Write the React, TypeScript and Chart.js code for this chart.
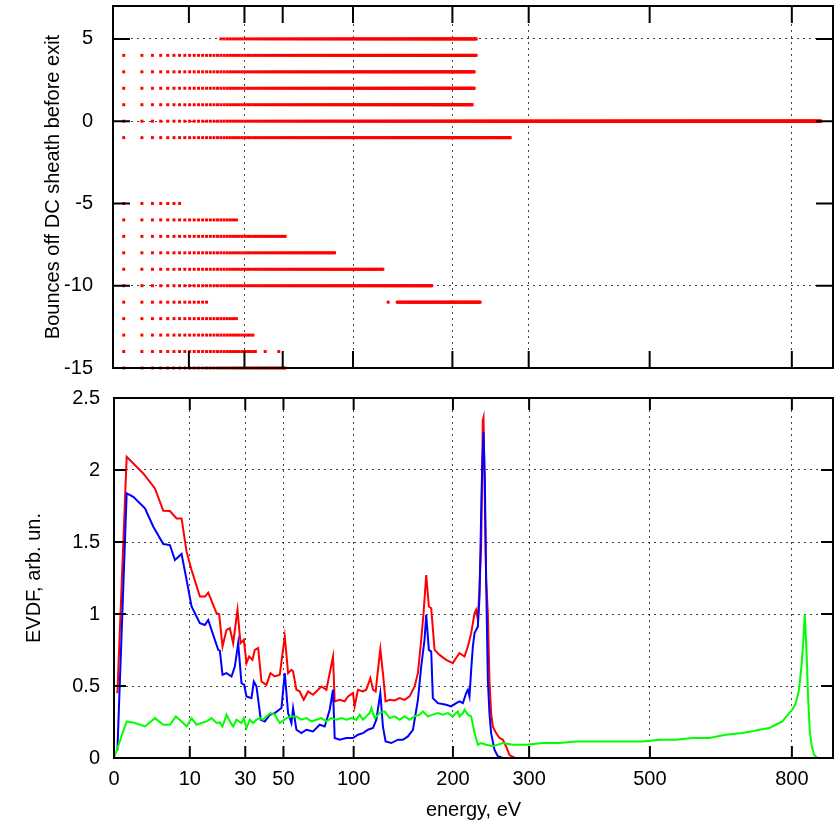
import React, { useEffect, useRef } from 'react';
import { Chart, registerables, LinearScale } from 'chart.js';

Chart.register(...registerables);

// Linear scale in sqrt(energy): data stay in eV, the axis spaces them by sqrt(E)
class SqrtScale extends LinearScale {
  static id = 'sqrt';
  getPixelForValue(value: number) {
    const lo = Math.sqrt(Math.max(this.min, 0));
    const hi = Math.sqrt(this.max);
    const v = Math.sqrt(Math.max(value, 0));
    return this.getPixelForDecimal((v - lo) / (hi - lo));
  }
  getValueForPixel(pixel: number) {
    const lo = Math.sqrt(Math.max(this.min, 0));
    const hi = Math.sqrt(this.max);
    const s = lo + this.getDecimalForPixel(pixel) * (hi - lo);
    return s * s;
  }
}
Chart.register(SqrtScale as any);

// ---------- tick labels ----------
const energyTicks = [0, 10, 30, 50, 100, 200, 300, 500, 800];
const bounceTicks = [-15, -10, -5, 0, 5];
const evdfTicks = [0, 0.5, 1, 1.5, 2, 2.5];
const topGridX = [30, 100, 200, 300, 800];
const topGridY = [-10, 0, 5];

// ---------- top panel: energy bins with exits after N bounces ----------
const binWidth = 1.25;
const firstBin = 0.2;
const rowBounces = [5, 4, 3, 2, 1, 0, -1, -5, -6, -7, -8, -9, -10, -11, -11, -11, -12, -13, -14, -14, -14, -15];
const rowFromE = [20, 0.2, 0.2, 0.2, 0.2, 0.2, 0.2, 0.2, 0.2, 0.2, 0.2, 0.2, 0.2, 0.2, 131, 140, 0.2, 0.2, 0.2, 40, 47.5, 0.2];
const rowToE = [229, 229.5, 227, 227, 225, 871, 275, 8, 26.7, 52.6, 85.6, 126.6, 176.7, 15.3, 132, 234, 26.7, 35, 36, 40.5, 48, 52.6];

// ---------- bottom panel: EVDF curves ----------
const redE = [0.02, 0.28, 1.49, 2.92, 4.23, 5.44, 6.82, 7.95, 9.17, 10.47, 12.84, 14.38, 15.45, 17.13, 18.3, 19.26, 20.5, 22.04, 23.36, 24.72, 26.55, 27.86, 29.34, 30.56, 31.8, 33.38, 34.52, 36.17, 37.86, 40.47, 42.61, 45.0, 47.84, 50.77, 52.77, 54.8, 55.83, 57.93, 60.06, 62.67, 65.57, 68.98, 72.49, 74.87, 78.52, 81.0, 83.52, 84.79, 88.67, 92.64, 95.33, 99.44, 100.8, 103.6, 107.9, 110.8, 114.4, 116.8, 119.2, 121.3, 123.5, 125.9, 128.4, 132.3, 137.1, 142.0, 147.0, 152.1, 157.3, 160.8, 164.3, 166.8, 169.7, 172.6, 175.2, 178.9, 184.5, 192.1, 199.9, 203.5, 207.8, 213.9, 218.0, 222.1, 226.3, 228.3, 230.5, 232.6, 234.7, 236.8, 237.7, 239.0, 241.1, 243.3, 245.4, 247.6, 249.8, 254.2, 258.7, 263.2, 267.7, 272.3, 280];
const redV = [0.45, 2.092, 1.976, 1.872, 1.717, 1.715, 1.664, 1.664, 1.433, 1.306, 1.121, 1.121, 1.148, 1.063, 1.005, 0.999, 0.774, 0.89, 0.901, 0.797, 1.029, 0.797, 0.821, 0.659, 0.705, 0.682, 0.751, 0.763, 0.531, 0.508, 0.589, 0.566, 0.578, 0.844, 0.589, 0.612, 0.601, 0.474, 0.462, 0.404, 0.462, 0.439, 0.474, 0.497, 0.474, 0.589, 0.705, 0.393, 0.404, 0.393, 0.428, 0.451, 0.358, 0.474, 0.462, 0.474, 0.555, 0.474, 0.462, 0.612, 0.756, 0.589, 0.393, 0.404, 0.4, 0.416, 0.404, 0.428, 0.497, 0.589, 0.821, 1.005, 1.271, 1.052, 1.04, 0.751, 0.716, 0.682, 0.659, 0.693, 0.728, 0.705, 0.774, 0.867, 1.005, 1.029, 0.959, 1.19, 1.468, 2.346, 2.365, 1.93, 1.237, 1.005, 0.543, 0.312, 0.219, 0.173, 0.139, 0.127, 0.08, 0.02, 0];

const blueE = [0.02, 0.28, 0.65, 1.67, 2.69, 4.23, 5.44, 6.46, 7.95, 9.17, 10.47, 12.84, 14.38, 15.45, 17.13, 18.9, 19.51, 20.5, 22.04, 24.04, 25.42, 26.84, 28.3, 29.49, 30.56, 32.9, 34.03, 35.34, 37.52, 39.59, 42.25, 45.0, 48.81, 50.77, 52.77, 54.8, 55.83, 57.93, 61.14, 64.44, 68.98, 73.67, 77.3, 81.0, 83.52, 84.79, 88.67, 93.98, 99.44, 103.6, 107.9, 112.3, 116.8, 119.8, 123.5, 125.9, 128.4, 133.9, 140.4, 145.3, 150.4, 155.6, 160.8, 164.3, 167.9, 169.7, 172.6, 175.2, 177.0, 182.6, 192.1, 197.9, 203.9, 207.8, 211.9, 215.9, 218.0, 220.0, 222.1, 224.2, 226.3, 230.5, 232.6, 234.7, 236.0, 237.7, 239.4, 241.1, 243.3, 245.4, 247.6, 252.0, 256.4, 263.2, 272.3];
const blueV = [0.05, 1.838, 1.814, 1.734, 1.606, 1.486, 1.479, 1.375, 1.417, 1.237, 1.052, 0.936, 0.924, 0.959, 0.855, 0.751, 0.746, 0.578, 0.589, 0.566, 0.635, 0.797, 0.52, 0.508, 0.428, 0.416, 0.531, 0.497, 0.266, 0.254, 0.3, 0.312, 0.347, 0.589, 0.312, 0.243, 0.347, 0.196, 0.173, 0.196, 0.185, 0.231, 0.219, 0.335, 0.474, 0.139, 0.127, 0.139, 0.139, 0.162, 0.173, 0.196, 0.208, 0.266, 0.451, 0.219, 0.115, 0.104, 0.127, 0.127, 0.15, 0.196, 0.404, 0.635, 0.821, 0.994, 0.751, 0.739, 0.416, 0.381, 0.37, 0.358, 0.381, 0.393, 0.381, 0.451, 0.474, 0.428, 0.612, 0.774, 0.867, 0.913, 1.121, 1.699, 2.023, 2.265, 1.93, 1.237, 0.543, 0.312, 0.173, 0.058, 0.012, 0, 0];

const greenE = [0, 0.28, 0.77, 1.67, 2.92, 4.23, 5.44, 6.67, 7.95, 9.17, 10.47, 11.86, 13.34, 14.91, 16.56, 18.3, 19.51, 20.5, 22.04, 23.36, 24.72, 26.12, 28.3, 29.34, 30.56, 32.11, 33.71, 35.34, 37.0, 38.72, 40.47, 42.61, 45.0, 47.84, 51.76, 54.8, 57.93, 61.14, 64.44, 67.83, 71.31, 74.87, 78.52, 82.25, 86.07, 89.99, 93.98, 98.06, 102.2, 105.1, 107.9, 110.8, 113.8, 115.3, 118.3, 122.8, 127.5, 132.3, 137.1, 142.0, 147.0, 152.1, 157.3, 162.6, 166.1, 171.5, 177.0, 182.6, 188.3, 194.1, 199.9, 205.8, 207.8, 211.9, 213.9, 218.0, 222.1, 226.3, 230.5, 234.7, 241.1, 249.8, 263.2, 276.9, 295.6, 320.0, 345.3, 371.6, 398.9, 427.1, 456.3, 486.4, 517.6, 549.6, 582.7, 616.7, 651.7, 687.6, 709.6, 724.5, 747.1, 762.4, 777.8, 793.4, 801.2, 809.1, 817.0, 823.4, 827.4, 830.5, 833.0, 835.4, 838.6, 842.6, 847.5, 853.1, 861.3];
const greenV = [0, 0.254, 0.243, 0.219, 0.277, 0.231, 0.231, 0.289, 0.254, 0.219, 0.277, 0.231, 0.243, 0.254, 0.277, 0.243, 0.247, 0.219, 0.301, 0.254, 0.219, 0.266, 0.243, 0.277, 0.208, 0.266, 0.243, 0.266, 0.277, 0.266, 0.289, 0.312, 0.301, 0.243, 0.277, 0.289, 0.289, 0.266, 0.277, 0.254, 0.266, 0.277, 0.254, 0.277, 0.266, 0.277, 0.266, 0.277, 0.266, 0.301, 0.266, 0.289, 0.312, 0.347, 0.277, 0.312, 0.324, 0.277, 0.289, 0.266, 0.289, 0.266, 0.289, 0.301, 0.324, 0.289, 0.301, 0.312, 0.301, 0.312, 0.289, 0.324, 0.289, 0.312, 0.335, 0.301, 0.289, 0.173, 0.092, 0.104, 0.092, 0.081, 0.104, 0.092, 0.092, 0.104, 0.104, 0.115, 0.115, 0.115, 0.115, 0.115, 0.127, 0.127, 0.139, 0.139, 0.162, 0.173, 0.185, 0.196, 0.208, 0.231, 0.254, 0.312, 0.335, 0.381, 0.474, 0.659, 0.821, 0.994, 0.867, 0.705, 0.428, 0.196, 0.081, 0.023, 0];

// ---------- styling ----------
const FONT = { family: "'Liberation Sans', Arial, Helvetica, sans-serif", size: 20 };
const GRID = 'rgba(0,0,0,0.75)';

const toPts = (xs: number[], ys: number[]) => xs.map((x, i) => ({ x, y: ys[i] }));

function bouncePoints() {
  const pts: { x: number; y: number }[] = [];
  for (let r = 0; r < rowBounces.length; r++) {
    for (let k = 0; ; k++) {
      const e = firstBin + k * binWidth;
      if (e > rowToE[r]) break;
      if (e >= rowFromE[r] - 1e-9) pts.push({ x: e, y: rowBounces[r] });
    }
  }
  return pts;
}

const frameTicks = {
  id: 'frameTicks',
  afterDatasetsDraw(chart: any, _args: any, opts: any) {
    const { ctx, chartArea: a, scales } = chart;
    const len = opts.len || 12;
    ctx.save();
    ctx.setLineDash([]);
    ctx.strokeStyle = '#000';
    ctx.lineWidth = 2;
    ctx.beginPath();
    for (const t of scales.x.ticks) {
      const px = scales.x.getPixelForValue(t.value);
      ctx.moveTo(px, a.bottom); ctx.lineTo(px, a.bottom - len);
      ctx.moveTo(px, a.top); ctx.lineTo(px, a.top + len);
    }
    for (const t of scales.y.ticks) {
      const py = scales.y.getPixelForValue(t.value);
      ctx.moveTo(a.left, py); ctx.lineTo(a.left + len, py);
      ctx.moveTo(a.right, py); ctx.lineTo(a.right - len, py);
    }
    ctx.stroke();
    ctx.strokeRect(a.left, a.top, a.right - a.left, a.bottom - a.top);
    ctx.restore();
  },
};

const setTicks = (vals: number[]) => (s: any) => {
  s.ticks = vals.map((v) => ({ value: v }));
};

export default function App() {
  const topRef = useRef<HTMLCanvasElement>(null);
  const botRef = useRef<HTMLCanvasElement>(null);

  useEffect(() => {
    const top = new Chart(topRef.current as HTMLCanvasElement, {
      type: 'scatter',
      data: {
        datasets: [
          {
            data: bouncePoints(),
            pointStyle: 'rect',
            pointRadius: 2.1,
            pointBorderWidth: 0,
            backgroundColor: '#ff0000',
            borderColor: '#ff0000',
            clip: false,
          } as any,
        ],
      },
      options: {
        responsive: false,
        animation: false,
        events: [],
        layout: { padding: { left: 0, right: 5, top: 6, bottom: 0 } },
        plugins: { legend: { display: false }, tooltip: { enabled: false }, frameTicks: { len: 17 } } as any,
        scales: {
          x: {
            type: 'sqrt' as any,
            min: 0,
            max: 900,
            afterBuildTicks: setTicks(energyTicks),
            afterFit: (s: any) => { s.height = 12; s.paddingLeft = 0; s.paddingRight = 0; },
            ticks: { display: false },
            grid: {
              drawTicks: false,
              lineWidth: 1,
              color: (c: any) => (c.tick && topGridX.includes(c.tick.value) ? GRID : 'rgba(0,0,0,0)'),
            },
            border: { display: false, dash: [2, 4] },
          },
          y: {
            min: -15,
            max: 7,
            afterBuildTicks: setTicks(bounceTicks),
            afterFit: (s: any) => { s.width = 113; s.paddingTop = 0; s.paddingBottom = 0; },
            ticks: { padding: 20, font: FONT, color: '#000', callback: (v: any) => String(v) },
            grid: {
              drawTicks: false,
              lineWidth: 1,
              color: (c: any) => (c.tick && topGridY.includes(c.tick.value) ? GRID : 'rgba(0,0,0,0)'),
            },
            border: { display: false, dash: [2, 4] },
            title: {
              display: true,
              text: 'Bounces off DC sheath before exit',
              font: FONT,
              color: '#000',
              padding: { top: 41, bottom: 0 },
            },
          },
        },
      } as any,
      plugins: [frameTicks as any],
    });

    const bot = new Chart(botRef.current as HTMLCanvasElement, {
      type: 'line',
      data: {
        datasets: [
          { data: toPts(greenE, greenV), borderColor: '#00ff00', order: 0 },
          { data: toPts(blueE, blueV), borderColor: '#0000ff', order: 1 },
          { data: toPts(redE, redV), borderColor: '#ff0000', order: 2 },
        ] as any,
      },
      options: {
        responsive: false,
        animation: false,
        events: [],
        elements: { point: { radius: 0 }, line: { borderWidth: 2, tension: 0 } },
        layout: { padding: { left: 0, right: 5, top: 18, bottom: 0 } },
        plugins: { legend: { display: false }, tooltip: { enabled: false }, frameTicks: { len: 12 } } as any,
        scales: {
          x: {
            type: 'sqrt' as any,
            min: 0,
            max: 900,
            afterBuildTicks: setTicks(energyTicks),
            afterFit: (s: any) => { s.height = 66; s.paddingLeft = 0; s.paddingRight = 0; },
            ticks: { autoSkip: false, maxRotation: 0, padding: 9, font: FONT, color: '#000', callback: (v: any) => String(v) },
            grid: { drawTicks: false, lineWidth: 1, color: GRID },
            border: { display: false, dash: [2, 4] },
            title: { display: true, text: 'energy, eV', font: FONT, color: '#000', padding: { top: 0, bottom: 2 } },
          },
          y: {
            min: 0,
            max: 2.5,
            afterBuildTicks: setTicks(evdfTicks),
            afterFit: (s: any) => { s.width = 114; s.paddingTop = 0; s.paddingBottom = 0; },
            ticks: { padding: 14, font: FONT, color: '#000', callback: (v: any) => String(v) },
            grid: { drawTicks: false, lineWidth: 1, color: GRID },
            border: { display: false, dash: [2, 4] },
            title: { display: true, text: 'EVDF, arb. un.', font: FONT, color: '#000', padding: { top: 22, bottom: 0 } },
          },
        },
      } as any,
      plugins: [frameTicks as any],
    });

    return () => {
      top.destroy();
      bot.destroy();
    };
  }, []);

  return (
    <div style={{ position: 'absolute', left: 0, top: 0, width: 838, height: 824, background: '#fff' }}>
      <canvas ref={topRef} width={838} height={380} style={{ position: 'absolute', left: 0, top: 0, display: 'block' }} />
      <canvas ref={botRef} width={838} height={444} style={{ position: 'absolute', left: 0, top: 380, display: 'block' }} />
    </div>
  );
}
